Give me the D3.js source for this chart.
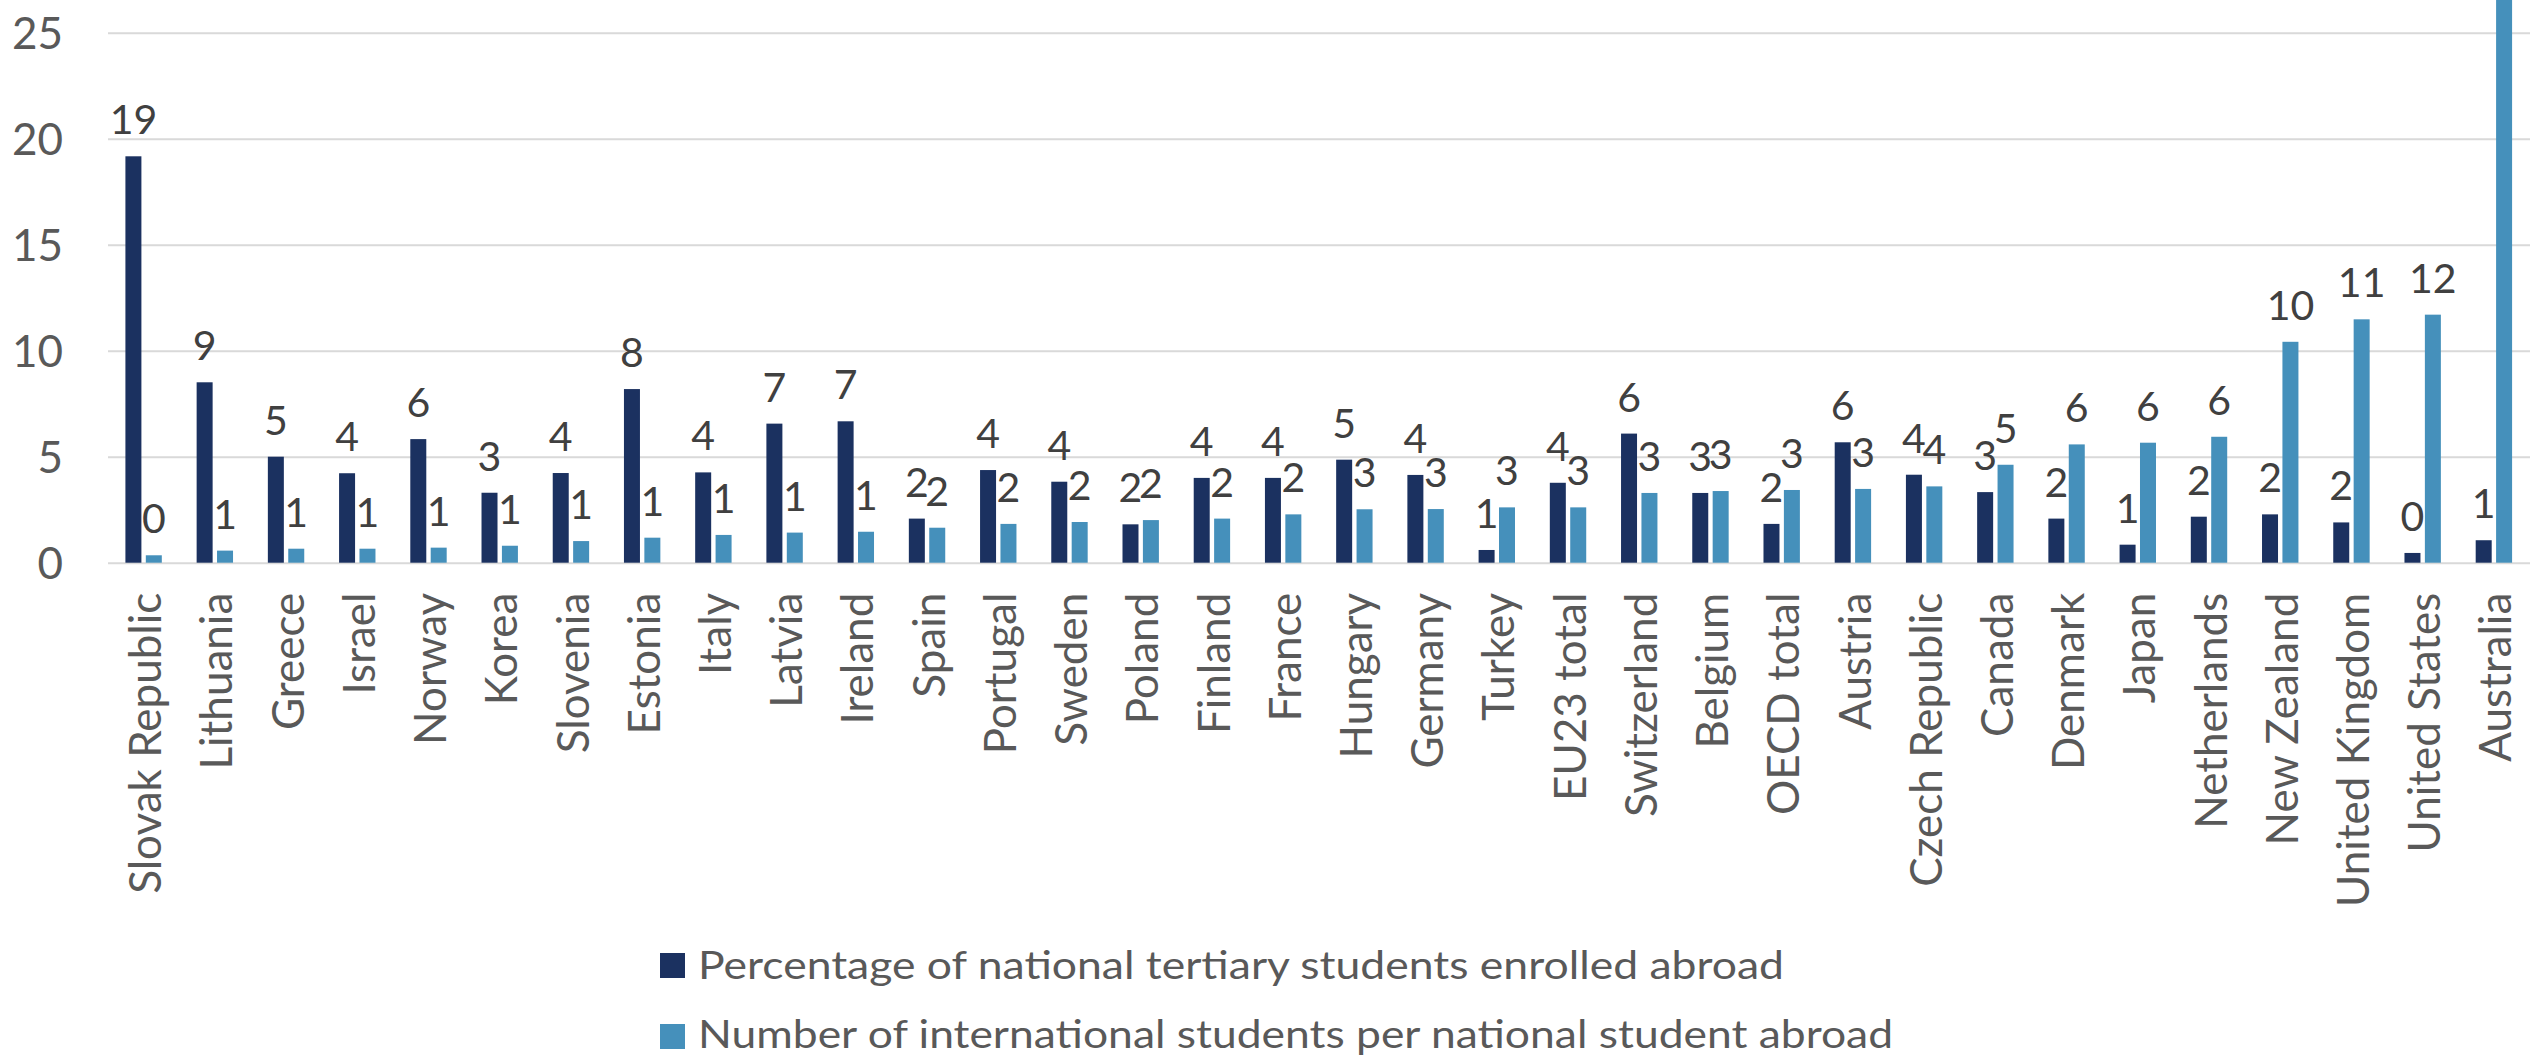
<!DOCTYPE html>
<html>
<head>
<meta charset="utf-8">
<script src="https://cdn.jsdelivr.net/npm/d3@7"></script>
<style>
  html, body { margin: 0; padding: 0; background: #ffffff; }
  svg { display: block; }
</style>
</head>
<body>
<div id="chart"></div>
<script>
const categories = ["Slovak Republic","Lithuania","Greece","Israel","Norway","Korea","Slovenia","Estonia","Italy","Latvia","Ireland","Spain","Portugal","Sweden","Poland","Finland","France","Hungary","Germany","Turkey","EU23 total","Switzerland","Belgium","OECD total","Austria","Czech Republic","Canada","Denmark","Japan","Netherlands","New Zealand","United Kingdom","United States","Australia"];
const pctAbroad = [19.17,8.51,5.0,4.22,5.83,3.30,4.23,8.19,4.26,6.56,6.67,2.08,4.37,3.82,1.81,4.0,4.0,4.86,4.14,0.60,3.77,6.09,3.29,1.83,5.68,4.15,3.33,2.08,0.85,2.17,2.28,1.90,0.46,1.06];
const intlPerNational = [0.35,0.57,0.66,0.66,0.71,0.80,1.02,1.18,1.31,1.42,1.46,1.65,1.83,1.92,2.01,2.08,2.28,2.52,2.53,2.61,2.61,3.29,3.38,3.43,3.48,3.60,4.62,5.58,5.66,5.94,10.42,11.48,11.70,30];
const seriesNames = ["Percentage of national tertiary students enrolled abroad","Number of international students per national student abroad"];
const seriesColors = ["#1b3160","#4590bb"];
const yTicks = [0,5,10,15,20,25];

const W = 2539, H = 1061;
const svg = d3.select("#chart").append("svg").attr("width", W).attr("height", H);
const FONT = "Lato, 'Open Sans', sans-serif";

const x0 = d3.scaleBand().domain(categories).range([108, 2529.5]).padding(0);
const bw = x0.bandwidth();
const x1 = d3.scaleBand().domain([0,1]).range([bw/2 - 18.2, bw/2 + 18.2]).paddingInner(0.216).paddingOuter(0);
const y = d3.scaleLinear().domain([0,25]).range([562.7, 32.7]);

// gridlines
const yAxis = d3.axisLeft(y).tickValues(yTicks).tickSize(-(2530 - 108)).tickPadding(45);
const gy = svg.append("g").attr("transform", "translate(108,0)").call(yAxis);
gy.select(".domain").remove();
gy.selectAll(".tick line").attr("stroke", "#d9d9d9").attr("stroke-width", 2);
gy.selectAll(".tick text").attr("font-family", FONT).attr("font-size", 44).attr("fill", "#595959")
  .attr("text-anchor", "end").attr("dy", "0.36em").attr("x", -45);

const plot = svg.append("g");
const data = categories.map((c, i) => ({ cat: c, vals: [pctAbroad[i], intlPerNational[i]] }));

const groups = plot.selectAll("g.grp").data(data).join("g").attr("class", "grp")
  .attr("transform", d => `translate(${x0(d.cat)},0)`);

groups.selectAll("rect").data(d => d.vals.map((v, k) => ({ v, k }))).join("rect")
  .attr("x", d => x1(d.k)).attr("width", x1.bandwidth())
  .attr("y", d => y(d.v)).attr("height", d => y(0) - y(d.v))
  .attr("fill", d => seriesColors[d.k]);

groups.selectAll("text.val").data(d => d.vals.map((v, k) => ({ v, k })).filter(d => y(d.v) - 22 > 0)).join("text")
  .attr("class", "val")
  .attr("x", d => x1(d.k) + x1.bandwidth() / 2)
  .attr("y", d => y(d.v) - 22)
  .attr("text-anchor", "middle")
  .attr("font-family", FONT).attr("font-size", 41).attr("fill", "#404040")
  .text(d => Math.round(d.v));

// x axis labels
const xAxis = d3.axisBottom(x0).tickSize(0).tickPadding(0);
const gx = svg.append("g").attr("transform", `translate(0,${y(0)})`).call(xAxis);
gx.select(".domain").remove();
gx.selectAll(".tick text")
  .attr("font-family", FONT).attr("font-size", 44).attr("fill", "#595959")
  .attr("text-anchor", "end")
  .attr("transform", "translate(0,30) rotate(-90)")
  .attr("x", 0).attr("y", 0).attr("dy", "0.4em");

// legend
const legend = svg.append("g");
const legRows = [{ sy: 953, base: 979, len: 1086 }, { sy: 1024, base: 1048, len: 1195 }];
seriesNames.forEach((name, i) => {
  legend.append("rect").attr("x", 660).attr("y", legRows[i].sy).attr("width", 25).attr("height", 25).attr("fill", seriesColors[i]);
  legend.append("text").attr("x", 698).attr("y", legRows[i].base)
    .attr("font-family", FONT).attr("font-size", 38).attr("fill", "#595959")
    .attr("textLength", legRows[i].len).attr("lengthAdjust", "spacingAndGlyphs")
    .text(name);
});
</script>
</body>
</html>
